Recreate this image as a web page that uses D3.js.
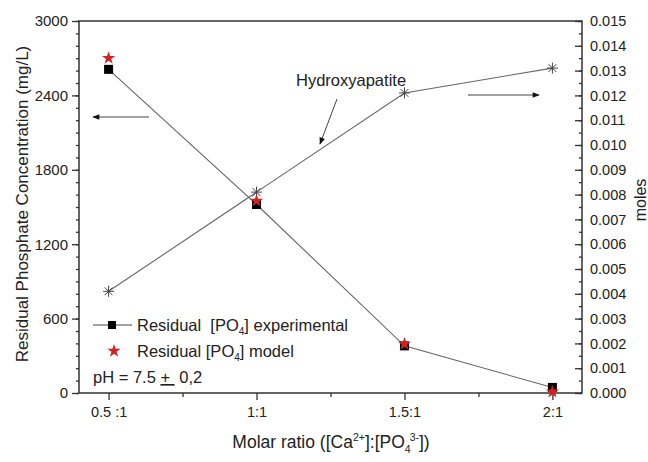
<!DOCTYPE html>
<html><head><meta charset="utf-8">
<script src="https://cdn.jsdelivr.net/npm/d3@7"></script>
<style>body{margin:0;background:#fff}svg{display:block}text{font-family:Arial,"Liberation Sans",sans-serif;fill:#222;white-space:pre}</style>
</head><body><svg id="c" width="648" height="462"></svg>
<script>
const ratios = [0.5, 1, 1.5, 2];
const ratioLabels = ["0.5 :1", "1:1", "1.5:1", "2:1"];
const experimental = [2610, 1520, 380, 45];
const model = [2700, 1550, 395, 10];
const hydroxyapatite = [0.0041, 0.0081, 0.0121, 0.0131];
const leftTicks = [0, 600, 1200, 1800, 2400, 3000];
const rightTicks = d3.range(0, 16).map(i => i / 1000);

const svg = d3.select("#c");
const L = 79, R = 582, T = 21, B = 393;
const x = d3.scaleLinear().domain([0.4, 2.1]).range([L, R]);
const yL = d3.scaleLinear().domain([0, 3000]).range([B, T]);
const yR = d3.scaleLinear().domain([0, 0.015]).range([B, T]);
const axisCol = "#333";

svg.append("defs").append("marker").attr("id","ah").attr("viewBox","0 0 10 10").attr("refX",9).attr("refY",5)
  .attr("markerWidth",9).attr("markerHeight",7).attr("orient","auto").attr("markerUnits","userSpaceOnUse")
  .append("path").attr("d","M0,1 L10,5 L0,9 Z").attr("fill","#111");

svg.append("rect").attr("x",L).attr("y",T).attr("width",R-L).attr("height",B-T)
  .attr("fill","none").attr("stroke",axisCol).attr("stroke-width",1.5);

// left axis
const gl = svg.append("g").attr("transform",`translate(${L},0)`);
gl.call(d3.axisLeft(yL).tickValues(d3.range(0,3001,100)).tickSize(3).tickFormat(""));
gl.select(".domain").remove();
const gl2 = svg.append("g").attr("transform",`translate(${L},0)`);
gl2.call(d3.axisLeft(yL).tickValues(leftTicks).tickSize(7).tickPadding(4).tickFormat(d3.format("d")));
gl2.select(".domain").remove();
gl2.selectAll("text").attr("font-size",15).attr("fill","#222");
[gl,gl2].forEach(g=>g.selectAll("line").attr("stroke",axisCol).attr("stroke-width",1.3));

// right axis (inward ticks)
const gr = svg.append("g").attr("transform",`translate(${R},0)`);
gr.call(d3.axisRight(yR).tickValues(d3.range(0,31).map(i=>i*0.0005)).tickSize(-3).tickFormat(""));
gr.select(".domain").remove();
const gr2 = svg.append("g").attr("transform",`translate(${R},0)`);
gr2.call(d3.axisRight(yR).tickValues(rightTicks).tickSize(-7).tickFormat(d3.format(".3f")));
gr2.select(".domain").remove();
gr2.selectAll("text").attr("font-size",14.5).attr("fill","#222").attr("x",8);
[gr,gr2].forEach(g=>g.selectAll("line").attr("stroke",axisCol).attr("stroke-width",1.3));

// bottom axis
const gb = svg.append("g").attr("transform",`translate(0,${B})`);
gb.call(d3.axisBottom(x).tickValues([0.75,1.25,1.75]).tickSize(4).tickFormat(""));
gb.select(".domain").remove();
const gb2 = svg.append("g").attr("transform",`translate(0,${B})`);
gb2.call(d3.axisBottom(x).tickValues(ratios).tickSize(7).tickPadding(7).tickFormat((d,i)=>ratioLabels[i]));
gb2.select(".domain").remove();
gb2.selectAll("text").attr("font-size",14.5).attr("fill","#222");
[gb,gb2].forEach(g=>g.selectAll("line").attr("stroke",axisCol).attr("stroke-width",1.3));

// lines
const lineL = d3.line().x((d,i)=>x(ratios[i])).y(d=>yL(d));
const lineR = d3.line().x((d,i)=>x(ratios[i])).y(d=>yR(d));
svg.append("path").attr("d",lineL(experimental)).attr("fill","none").attr("stroke","#666").attr("stroke-width",1.1);
svg.append("path").attr("d",lineR(hydroxyapatite)).attr("fill","none").attr("stroke","#666").attr("stroke-width",1.1);

// markers
const starPath = d3.symbol().type(d3.symbolStar).size(55)();
function asterisk(g, cx, cy, r){
  const a = g.append("g").attr("transform",`translate(${cx},${cy})`).attr("stroke","#444").attr("stroke-width",1);
  [0,45,90,135].forEach(an=>{const t=an*Math.PI/180;a.append("line").attr("x1",-r*Math.cos(t)).attr("y1",-r*Math.sin(t)).attr("x2",r*Math.cos(t)).attr("y2",r*Math.sin(t));});
}
hydroxyapatite.forEach((v,i)=>asterisk(svg, x(ratios[i]), yR(v), 5.5));
experimental.forEach((v,i)=>svg.append("rect").attr("x",x(ratios[i])-4.5).attr("y",yL(v)-4.5).attr("width",9).attr("height",9).attr("fill","#000"));
model.forEach((v,i)=>svg.append("path").attr("d",starPath).attr("transform",`translate(${x(ratios[i])},${yL(v)})`).attr("fill","#d42020"));

// arrows & annotation
svg.append("line").attr("x1",149).attr("y1",117).attr("x2",93).attr("y2",117).attr("stroke","#444").attr("stroke-width",1).attr("marker-end","url(#ah)");
svg.append("line").attr("x1",468).attr("y1",95).attr("x2",539).attr("y2",95).attr("stroke","#444").attr("stroke-width",1).attr("marker-end","url(#ah)");
svg.append("line").attr("x1",337).attr("y1",99).attr("x2",320).attr("y2",144).attr("stroke","#444").attr("stroke-width",1).attr("marker-end","url(#ah)");
svg.append("text").attr("x",296).attr("y",86).attr("font-size",16.5).text("Hydroxyapatite");

// legend
svg.append("line").attr("x1",93).attr("x2",132).attr("y1",325).attr("y2",325).attr("stroke","#444").attr("stroke-width",1.1);
svg.append("rect").attr("x",108).attr("y",321).attr("width",8).attr("height",8).attr("fill","#000");
const t1 = svg.append("text").attr("x",137).attr("y",331).attr("font-size",16.5);
t1.append("tspan").text("Residual  [PO");
t1.append("tspan").attr("font-size",10).attr("dy",4).text("4");
t1.append("tspan").attr("dy",-4).text("] experimental");
svg.append("path").attr("d",starPath).attr("transform","translate(114,351)").attr("fill","#d42020");
const t2 = svg.append("text").attr("x",137).attr("y",357).attr("font-size",16.5);
t2.append("tspan").text("Residual [PO");
t2.append("tspan").attr("font-size",10).attr("dy",4).text("4");
t2.append("tspan").attr("dy",-4).text("] model");
const t3 = svg.append("text").attr("x",93).attr("y",383).attr("font-size",16.5);
t3.append("tspan").text("pH = 7.5 ");
t3.append("tspan").attr("text-decoration","underline").text("+ ");
t3.append("tspan").text(" 0,2");

// axis titles
svg.append("text").attr("transform",`translate(28,${(T+B)/2-3}) rotate(-90)`).attr("text-anchor","middle").attr("font-size",17).text("Residual Phosphate Concentration (mg/L)");
svg.append("text").attr("transform",`translate(646,200) rotate(-90)`).attr("text-anchor","middle").attr("font-size",16).text("moles");
const xt = svg.append("text").attr("x",331).attr("y",448).attr("text-anchor","middle").attr("font-size",17.5);
xt.append("tspan").text("Molar ratio ([Ca");
xt.append("tspan").attr("font-size",10.5).attr("dy",-7).text("2+");
xt.append("tspan").attr("dy",7).text("]:[PO");
xt.append("tspan").attr("font-size",10.5).attr("dy",5).text("4");
xt.append("tspan").attr("font-size",10.5).attr("dy",-12).attr("dx",-1).text("3-");
xt.append("tspan").attr("dy",7).text("])");
</script></body></html>
